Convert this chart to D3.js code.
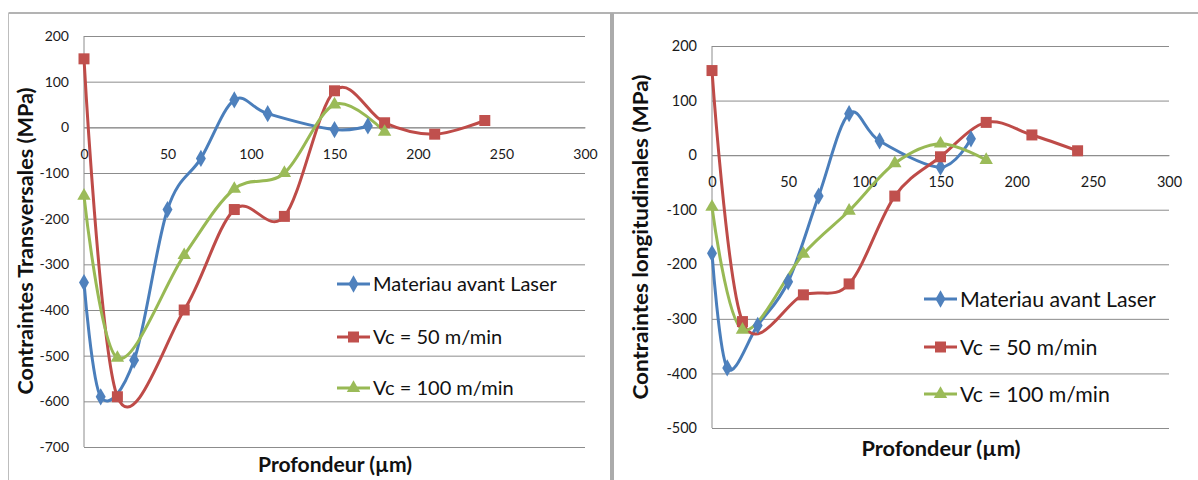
<!DOCTYPE html>
<html><head><meta charset="utf-8">
<script src="https://cdn.jsdelivr.net/npm/d3@7"></script>
<style>
html,body{margin:0;padding:0;background:#fff;}
svg{display:block;font-family:Lato,"Open Sans",sans-serif;}
</style></head>
<body><svg id="c" width="1198" height="480"></svg>
<script>
// ---- data ----
const seriesNames = ["Materiau avant Laser", "Vc = 50 m/min", "Vc = 100 m/min"];
const depthBlue = [0, 10, 30, 50, 70, 90, 110, 150, 170];
const depthRed = [0, 20, 60, 90, 120, 150, 180, 210, 240];
const depthGreen = [0, 20, 60, 90, 120, 150, 180];

const transBlue = [-340, -590, -510, -180, -68, 60, 30, -5, 3];
const transRed = [150, -590, -400, -180, -195, 80, 10, -15, 15];
const transGreen = [-150, -505, -280, -135, -100, 50, -10];

const longBlue = [-180, -390, -312, -232, -75, 76, 26, -22, 30];
const longRed = [155, -305, -256, -236, -75, -3, 60, 37, 8];
const longGreen = [-95, -320, -181, -102, -15, 21, -9];

const xTicks = [0, 50, 100, 150, 200, 250, 300];
const yTicksTrans = [200, 100, 0, -100, -200, -300, -400, -500, -600, -700];
const yTicksLong = [200, 100, 0, -100, -200, -300, -400, -500];

const yTitleTrans = "Contraintes Transversales (MPa)";
const yTitleLong = "Contraintes longitudinales (MPa)";
const xTitle = "Profondeur (µm)";

// ---- styles ----
const lineColors = ["#4A7EBB", "#BE4B48", "#98B954"];
const markColors = ["#4F81BD", "#C0504D", "#9BBB59"];
const markers = ["diamond", "square", "triangle"];

const svg = d3.select("#c");

// frames
svg.append("line").attr("x1", 8.5).attr("x2", 1198).attr("y1", 13).attr("y2", 13)
  .attr("stroke", "#9a9a9a").attr("stroke-width", 1.5);
svg.append("line").attr("x1", 8.5).attr("x2", 8.5).attr("y1", 13).attr("y2", 480)
  .attr("stroke", "#bdbdbd").attr("stroke-width", 1);
svg.append("rect").attr("x", 610).attr("y", 13).attr("width", 4).attr("height", 467)
  .attr("fill", "#ababab");

function markerPath(type, s) {
  if (type === "diamond") return d3.symbol(d3.symbolDiamond, s * s * 0.55)();
  if (type === "square") return d3.symbol(d3.symbolSquare, s * s)();
  return d3.symbol(d3.symbolTriangle, s * s * 0.5)();
}

function drawChart(cfg) {
  const g = svg.append("g");
  const x = d3.scaleLinear().domain([0, 300]).range(cfg.xr);
  const y = d3.scaleLinear().domain(cfg.yd).range(cfg.yr);

  // gridlines via axis
  const yAxis = d3.axisLeft(y).tickValues(cfg.yTicks).tickSize(-(cfg.xr[1] - cfg.xr[0])).tickPadding(15)
    .tickFormat(d => String(d));
  const ya = g.append("g").attr("transform", `translate(${cfg.xr[0]},0)`).call(yAxis);
  ya.select(".domain").remove();
  ya.selectAll(".tick line").attr("stroke", "#8c8c8c").attr("stroke-width", 1);
  ya.selectAll(".tick text").attr("font-size", cfg.tickFs).attr("fill", "#1a1a1a").attr("font-family", "Lato");
  // y axis line
  g.append("line").attr("x1", cfg.xr[0]).attr("x2", cfg.xr[0]).attr("y1", cfg.yr[1]).attr("y2", cfg.yr[0])
    .attr("stroke", "#8c8c8c").attr("stroke-width", 1);

  // x axis at y=0
  const xAxis = d3.axisBottom(x).tickValues(xTicks).tickSize(0).tickPadding(22).tickFormat(d => String(d));
  const xa = g.append("g").attr("transform", `translate(0,${y(0)})`).call(xAxis);
  xa.select(".domain").attr("stroke", "#8c8c8c");
  xa.selectAll(".tick text").attr("font-size", cfg.tickFs).attr("fill", "#1a1a1a").attr("font-family", "Lato");

  // titles
  g.append("text").attr("transform", `translate(${cfg.ytx},${cfg.yty}) rotate(-90)`)
    .attr("text-anchor", "middle").attr("font-weight", "bold").attr("font-size", 20.5)
    .attr("textLength", cfg.ytLen).attr("lengthAdjust", "spacingAndGlyphs")
    .attr("fill", "#111").text(cfg.yTitle);
  g.append("text").attr("x", cfg.xtx).attr("y", cfg.xty).attr("text-anchor", "middle")
    .attr("font-weight", "bold").attr("font-size", 20.5)
    .attr("textLength", cfg.xtLen).attr("lengthAdjust", "spacingAndGlyphs")
    .attr("fill", "#111").text(xTitle);

  const line = d3.line().x(d => x(d[0])).y(d => y(d[1])).curve(d3.curveCatmullRom.alpha(0));
  cfg.series.forEach((s, i) => {
    const pts = s.x.map((d, k) => [d, s.y[k]]);
    g.append("path").datum(pts).attr("d", line).attr("fill", "none")
      .attr("stroke", lineColors[i]).attr("stroke-width", 3).attr("stroke-linejoin", "round");
  });
  cfg.series.forEach((s, i) => {
    const pts = s.x.map((d, k) => [d, s.y[k]]);
    g.selectAll(null).data(pts).enter().append("path")
      .attr("transform", d => `translate(${x(d[0])},${y(d[1])})`)
      .attr("d", markerPath(markers[i], i === 1 ? 11 : 12.5))
      .attr("fill", markColors[i]);
  });

  // legend
  seriesNames.forEach((n, i) => {
    const ly = cfg.legY[i];
    const lg = g.append("g");
    lg.append("line").attr("x1", cfg.legX).attr("x2", cfg.legX + 33).attr("y1", ly).attr("y2", ly)
      .attr("stroke", lineColors[i]).attr("stroke-width", 3);
    lg.append("path").attr("transform", `translate(${cfg.legX + 16.5},${ly})`)
      .attr("d", markerPath(markers[i], i === 1 ? 11 : 12.5)).attr("fill", markColors[i]);
    lg.append("text").attr("x", cfg.legX + 36).attr("y", ly).attr("dy", "0.36em")
      .attr("font-size", cfg.legFs).attr("fill", "#111").text(n);
  });
}

drawChart({
  xr: [84, 585], yd: [-700, 200], yr: [447, 36], yTicks: yTicksTrans, tickFs: 14,
  yTitle: yTitleTrans, ytx: 33, yty: 241, ytLen: 307, xtx: 335, xty: 472, xtLen: 154,
  legX: 337, legY: [284, 337, 388], legFs: 20,
  series: [{x: depthBlue, y: transBlue}, {x: depthRed, y: transRed}, {x: depthGreen, y: transGreen}]
});
drawChart({
  xr: [712, 1169], yd: [-500, 200], yr: [428, 46], yTicks: yTicksLong, tickFs: 14.5,
  yTitle: yTitleLong, ytx: 648, yty: 237, ytLen: 325, xtx: 941, xty: 456, xtLen: 159,
  legX: 924, legY: [299, 347, 394], legFs: 21.3,
  series: [{x: depthBlue, y: longBlue}, {x: depthRed, y: longRed}, {x: depthGreen, y: longGreen}]
});
</script></body></html>
